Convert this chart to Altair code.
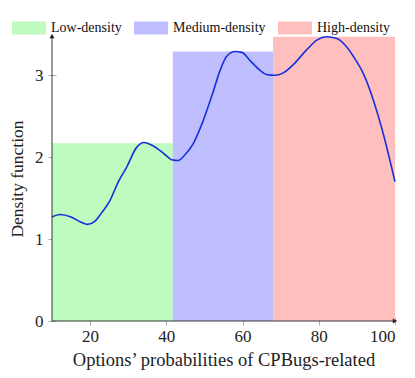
import altair as alt
import pandas as pd

# Density curve
curve_x = [10.0, 12.1, 15.0, 17.5, 19.3, 21.3, 23.0, 25.2, 27.4, 29.6, 32.2, 34.1, 36.5, 39.7, 41.4,
           43.1, 44.9, 47.1, 49.7, 52.3, 54.1, 55.8, 58.0, 59.8, 62.0, 64.6, 66.3, 68.5, 70.7,
           73.3, 76.8, 79.5, 82.1, 84.7, 86.9, 89.1, 91.7, 94.3, 96.9, 100.0]
curve_y = [1.27, 1.30, 1.27, 1.21, 1.18, 1.22, 1.32, 1.47, 1.70, 1.88, 2.12, 2.18, 2.14, 2.03, 1.97,
           1.96, 2.03, 2.17, 2.45, 2.80, 3.06, 3.23, 3.29, 3.28, 3.18, 3.06, 3.01, 3.00, 3.03,
           3.13, 3.31, 3.43, 3.47, 3.45, 3.37, 3.23, 3.02, 2.70, 2.29, 1.70]

# Density bands
band_names = ["Low-density", "Medium-density", "High-density"]
band_start = [10, 41.7, 68]
band_end = [41.7, 68, 100]
band_height = [2.17, 3.29, 3.47]
band_colors = ["#BFFABF", "#BFBFFF", "#FFBFBF"]

x_ticks = [20, 40, 60, 80, 100]
y_ticks = [0, 1, 2, 3]
x_domain = [10, 100]
y_domain = [0, 3.48]

FONT = "Liberation Serif"

curve_df = pd.DataFrame({"x": curve_x, "y": curve_y})
band_df = pd.DataFrame({"name": band_names, "x": band_start, "x2": band_end, "h": band_height})

xs = alt.Scale(domain=x_domain, nice=False, zero=False)
ys = alt.Scale(domain=y_domain, nice=False)

x_axis = alt.Axis(values=x_ticks, format="d", title="Options’ probabilities of CPBugs-related",
                  domain=False, grid=False, offset=-4, tickSize=8, tickColor="#999999",
                  tickWidth=0.8, labelFont=FONT, labelFontSize=17, labelColor="#222",
                  labelPadding=3, titleFont=FONT, titleFontSize=18.5, titleFontWeight="normal",
                  titleColor="#222", titlePadding=6)
y_axis = alt.Axis(values=y_ticks, format="d", title="Density function", domain=False, grid=False,
                  offset=-4, tickSize=8, tickColor="#999999", tickWidth=0.8,
                  labelFont=FONT, labelFontSize=17, labelColor="#222", labelPadding=5,
                  titleFont=FONT, titleFontSize=17.5, titleFontWeight="normal", titleColor="#222",
                  titlePadding=8)

bands = alt.Chart(band_df).mark_rect(opacity=1, strokeWidth=0).encode(
    x=alt.X("x:Q", scale=xs, axis=x_axis),
    x2="x2:Q",
    y=alt.Y("h:Q", scale=ys, axis=y_axis),
    y2=alt.datum(0),
    color=alt.Color("name:N", scale=alt.Scale(domain=band_names, range=band_colors),
                    legend=alt.Legend(title=None, orient="none", legendX=-40, legendY=-25,
                                      direction="horizontal",
                                      symbolType="M-1,-0.38H1V0.38H-1Z", symbolSize=1156,
                                      symbolStrokeWidth=0, symbolOpacity=1,
                                      labelFont=FONT, labelFontSize=14, labelColor="#111",
                                      labelOffset=5, columnPadding=12, padding=0)),
)

line = alt.Chart(curve_df).mark_line(color="#1530dd", strokeWidth=1.6,
                                     interpolate="monotone").encode(
    x=alt.X("x:Q", scale=xs, axis=x_axis), y=alt.Y("y:Q", scale=ys, axis=y_axis)
)

axis_lines_df = pd.DataFrame({"x": [x_domain[0], x_domain[0]], "x2": [x_domain[0], x_domain[1]],
                              "y": [y_domain[0], y_domain[0]], "y2": [y_domain[1], y_domain[0]]})
axis_lines = alt.Chart(axis_lines_df).mark_rule(color="#222", strokeWidth=0.9).encode(
    x=alt.X("x:Q", scale=xs, axis=x_axis), x2="x2:Q",
    y=alt.Y("y:Q", scale=ys, axis=y_axis), y2="y2:Q"
)

arrow_df = pd.DataFrame({"x": [x_domain[0], x_domain[1]], "y": [y_domain[1], y_domain[0]],
                         "shape": ["triangle-up", "triangle-right"]})
arrows = alt.Chart(arrow_df).mark_point(filled=True, color="#222", size=25, opacity=1).encode(
    x=alt.X("x:Q", scale=xs, axis=x_axis), y=alt.Y("y:Q", scale=ys, axis=y_axis),
    shape=alt.Shape("shape:N", scale=None, legend=None)
)

chart = alt.layer(bands, line, axis_lines, arrows).properties(
    width=343, height=285,
    autosize=alt.AutoSizeParams(type="none"),
    padding={"left": 44, "top": 28, "right": 12, "bottom": 49},
).configure_view(stroke=None)

chart.save("out.html", embed_options={"renderer": "svg", "actions": False})
